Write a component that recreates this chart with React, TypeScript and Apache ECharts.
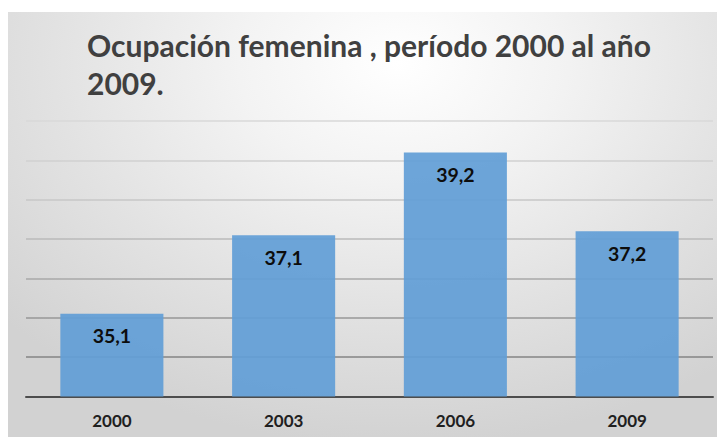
import React, { useEffect, useRef } from "react";
import * as echarts from "echarts";

const titleText = "Ocupación femenina , período 2000 al año\n2009.";
const categories = ["2000", "2003", "2006", "2009"];
const values = [35.1, 37.1, 39.2, 37.2];
const axisMin = 33;
const axisMax = 40;
const axisInterval = 1;
const gridColors = ["#7a7a7a", "#858585", "#979797", "#a9a9a9", "#bababa", "#c7c7c7", "#d1d1d1", "#d9d9d9"];

export default function App() {
  const ref = useRef<HTMLDivElement>(null);
  useEffect(() => {
    if (!ref.current) return;
    const chart = echarts.init(ref.current, null, { renderer: "svg" });
    chart.setOption({
      animation: false,
      backgroundColor: "transparent",
      title: {
        text: titleText,
        left: 79,
        top: 14,
        padding: 0,
        textStyle: {
          fontFamily: "Lato",
          fontWeight: "bold",
          fontSize: 30,
          lineHeight: 38,
          color: "#404040",
        },
      },
      grid: { left: 18, right: 4, top: 109, bottom: 40.5, containLabel: false },
      xAxis: {
        type: "category",
        data: categories,
        axisTick: { show: false },
        axisLine: { lineStyle: { color: "#4d4d4d", width: 2 } },
        axisLabel: {
          fontFamily: "Lato",
          fontWeight: "bold",
          fontSize: 17,
          color: "#1f1f1f",
          margin: 15,
        },
      },
      yAxis: {
        type: "value",
        min: axisMin,
        max: axisMax,
        interval: axisInterval,
        axisLabel: { show: false },
        axisLine: { show: false },
        axisTick: { show: false },
        splitLine: { lineStyle: { color: gridColors, width: 1.5 } },
      },
      series: [
        {
          type: "bar",
          data: values,
          barWidth: "60%",
          itemStyle: { color: "rgba(98,158,214,0.93)" },
          label: {
            show: true,
            position: "insideTop",
            distance: 12,
            formatter: (p: any) => String(p.value).replace(".", ","),
            fontFamily: "Lato",
            fontWeight: "bold",
            fontSize: 19.5,
            color: "#0d0d0d",
          },
        },
      ],
    });
    return () => chart.dispose();
  }, []);
  return (
    <div
      ref={ref}
      style={{
        position: "absolute",
        left: 8,
        top: 12,
        width: 709,
        height: 425,
        background:
          "radial-gradient(ellipse 75% 90% at 55% 12%, #ffffff 0%, #f3f3f3 30%, #e2e2e2 65%, #d2d2d2 100%)",
      }}
    />
  );
}
